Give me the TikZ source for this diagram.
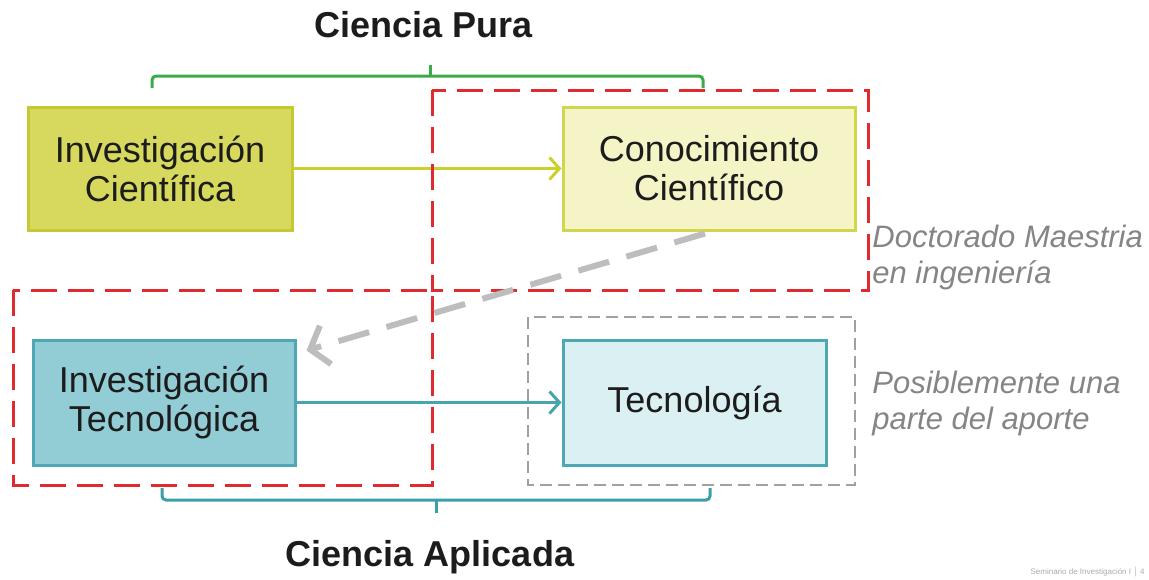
\documentclass[tikz,border=0pt]{standalone}
\usepackage{fontspec}
\setmainfont{Liberation Sans}
\usetikzlibrary{arrows.meta}

\definecolor{cienfill}{HTML}{D6D95E}
\definecolor{cienline}{HTML}{C6C934}
\definecolor{conofill}{HTML}{F4F4C6}
\definecolor{conoline}{HTML}{D2D54E}
\definecolor{tecfill}{HTML}{92CDD5}
\definecolor{tecline}{HTML}{4DA8B3}
\definecolor{tecnofill}{HTML}{DBF0F3}
\definecolor{yelarrow}{HTML}{CDD02C}
\definecolor{tealarrow}{HTML}{48A4AF}
\definecolor{puragreen}{HTML}{3DAA4A}
\definecolor{aplteal}{HTML}{3C9EA8}
\definecolor{zonered}{HTML}{DF2A2F}
\definecolor{zonegray}{HTML}{A0A0A0}
\definecolor{flowgray}{HTML}{BDBDBD}
\definecolor{notegray}{HTML}{858585}
\definecolor{boxtext}{HTML}{1C1C1C}

\begin{document}
\begin{tikzpicture}[x=0.5pt,y=-0.5pt,
  box/.style={draw, line width=1.5pt, align=center, inner sep=0pt,
    minimum height=61.5pt, font=\fontsize{18}{19.5}\selectfont, text=boxtext},
  title/.style={font=\fontsize{18}{20}\selectfont\bfseries, text=boxtext},
  note/.style={anchor=west, align=left, inner sep=0pt, text=notegray,
    font=\fontsize{15.5}{18}\selectfont\itshape},
  redzone/.style={draw=zonered, line width=1.5pt, dash pattern=on 13pt off 5.5pt},
  grayzone/.style={draw=zonegray, line width=1pt, dash pattern=on 6pt off 3pt},
  brace/.style={line width=1.5pt, rounded corners=2pt}
]
\useasboundingbox (0,0) rectangle (1149,579);

% boxes

\node[box, fill=cienfill, draw=cienline, minimum width=132pt] (invcien) at (160,168.5) {Investigación\\Científica};
\node[box, fill=conofill, draw=conoline, minimum width=146pt] (concien) at (709,168.5) {Conocimiento\\Científico};
\node[box, fill=tecfill, draw=tecline, minimum width=131pt, minimum height=62.5pt] (invtec) at (164,402.5) {Investigación\\Tecnológica};
\node[box, fill=tecnofill, draw=tecline, minimum width=131.5pt, minimum height=62.5pt] (tecno) at (694.5,402.5) {Tecnología};

% arrows between boxes

\draw[yelarrow, line width=1.5pt, -{Straight Barb[length=5pt,width=11pt]}] (invcien) -- (concien);
\draw[tealarrow, line width=1.5pt, -{Straight Barb[length=5pt,width=11pt]}] (invtec) -- (tecno);

% dashed zones

\draw[redzone] (432,90) rectangle (868,290);
\draw[redzone] (13,290) rectangle (432,485);
\draw[grayzone] (528,317) rectangle (855,485);

% dashed arrow back to investigacion tecnologica

\draw[flowgray, line width=3pt, dash pattern=on 16pt off 9pt,
  -{Straight Barb[length=8pt,width=20pt,line width=3pt]}]
  ([xshift=-2pt,yshift=-1pt]concien.south) -- ([xshift=5pt,yshift=-6pt]invtec.north east);

% braces

\draw[brace, puragreen] (152,88) -- (152,76) -- (703,76) -- (703,88);
\draw[puragreen, line width=1.5pt] (430,76) -- (430,65);
\draw[brace, aplteal] (162,488) -- (162,500) -- (710,500) -- (710,488);
\draw[aplteal, line width=1.5pt] (436,500) -- (436,513);

\node[title] (pura) at (424,25) {Ciencia Pura};
\node[title] (aplicada) at (430,557) {Ciencia Aplicada};

% side notes

\node[note] (doct) at (872,257) {Doctorado Maestria\\en ingeniería};
\node[note] (aporte) at (872,403.5) {Posiblemente una\\parte del aporte};

\node[anchor=east, inner sep=0pt, text=notegray!70, font=\fontsize{4}{4}\selectfont] (pie) at (1145,572) {Seminario de Investigación I $|$ 4};

\end{tikzpicture}
\end{document}
